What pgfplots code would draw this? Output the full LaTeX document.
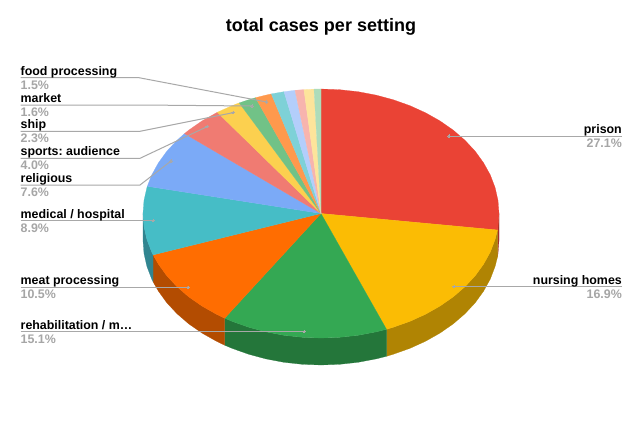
\documentclass[border=0pt]{standalone}
\usepackage{fontspec}
\setmainfont{Liberation Sans}
\usepackage{pgfplots}
\pgfplotsset{compat=1.18}
\frenchspacing
\definecolor{cA}{HTML}{EA4335}\definecolor{sA}{HTML}{A32F25}
\definecolor{cB}{HTML}{FBBC04}\definecolor{sB}{HTML}{B08403}
\definecolor{cC}{HTML}{34A853}\definecolor{sC}{HTML}{24763A}
\definecolor{cD}{HTML}{FF6D01}\definecolor{sD}{HTML}{B34C01}
\definecolor{cE}{HTML}{46BDC6}\definecolor{sE}{HTML}{318590}
\definecolor{cF}{HTML}{7BAAF7}
\definecolor{cG}{HTML}{F07B72}
\definecolor{cH}{HTML}{FCD04F}
\definecolor{cI}{HTML}{71C287}
\definecolor{cJ}{HTML}{FF994D}
\definecolor{cK}{HTML}{7ED1D7}
\definecolor{cL}{HTML}{B3CEFB}
\definecolor{cM}{HTML}{F7B4AE}
\definecolor{cN}{HTML}{FDE49B}
\definecolor{cO}{HTML}{AEDCBA}
\definecolor{leader}{HTML}{A8A8A8}
\definecolor{pct}{HTML}{A6A6A6}
\newcommand{\lab}[5]{%
  \node[anchor=#1,inner sep=0pt,font=\fontsize{12.4}{14}\selectfont\bfseries\frenchspacing,text=black] at (axis cs:#2,#3) {#4};
  \node[anchor=#1,inner sep=0pt,font=\fontsize{12.4}{14}\selectfont\bfseries,text=pct] at (axis cs:#2,#3+14) {#5};}
\begin{document}
\begin{tikzpicture}
\path[fill=white] (0,0) rectangle (640pt,426pt);
\begin{axis}[scale only axis,width=640pt,height=426pt,xmin=0,xmax=640,ymin=0,ymax=426,
  y dir=reverse,hide axis,clip=false,
  every axis plot/.append style={line join=round}]
% side walls
\addplot[fill=sA,draw=sA,line width=0.2pt] coordinates {(499,213.5)(498,226.5)(497.5,230)(497.5,257)(498,253.5)(499,240.5)} --cycle;
\addplot[fill=sB,draw=sB,line width=0.2pt] coordinates {(497.5,230)(495.1,239.4)(490.3,252)(483.6,264.1)(475.2,275.75)(465,286.7)(453.3,296.8)(440.1,306)(425.6,314.2)(410,321.3)(393.4,327.2)(386.5,329.3)(386.5,356.3)(393.4,354.2)(410,348.3)(425.6,341.2)(440.1,333)(453.3,323.8)(465,313.7)(475.2,302.75)(483.6,291.1)(490.3,279)(495.1,266.4)(497.5,257)} --cycle;
\addplot[fill=sC,draw=sC,line width=0.2pt] coordinates {(386.5,329.3)(376,331.9)(358,335.3)(339.6,337.3)(321,338)(302.4,337.3)(284,335.3)(266,331.9)(248.6,327.2)(232,321.3)(224.7,318.2)(224.7,345.2)(232,348.3)(248.6,354.2)(266,358.9)(284,362.3)(302.4,364.3)(321,365)(339.6,364.3)(358,362.3)(376,358.9)(386.5,356.3)} --cycle;
\addplot[fill=sD,draw=sD,line width=0.2pt] coordinates {(224.7,318.2)(216.4,314.2)(201.9,306)(188.7,296.8)(177,286.7)(166.8,275.75)(158.4,264.1)(153.1,254.9)(153.1,281.9)(158.4,291.1)(166.8,302.75)(177,313.7)(188.7,323.8)(201.9,333)(216.4,341.2)(224.7,345.2)} --cycle;
\addplot[fill=sE,draw=sE,line width=0.2pt] coordinates {(153.1,254.9)(151.7,252)(146.9,239.4)(144,226.5)(143,213.5)(143,240.5)(144,253.5)(146.9,266.4)(151.7,279)(153.1,281.9)} --cycle;
% top slices
\addplot[fill=cA,draw=cA,line width=0.2pt] coordinates {(321,213.5)(321,89)(339.6,89.7)(358,91.7)(376,95.1)(393.4,99.8)(410,105.7)(425.6,112.8)(440.1,121)(453.3,130.2)(465,140.3)(475.2,151.25)(483.6,162.9)(490.3,175)(495.1,187.6)(498,200.5)(499,213.5)(498,226.5)(497.5,230)} --cycle;
\addplot[fill=cB,draw=cB,line width=0.2pt] coordinates {(321,213.5)(497.5,230)(495.1,239.4)(490.3,252)(483.6,264.1)(475.2,275.75)(465,286.7)(453.3,296.8)(440.1,306)(425.6,314.2)(410,321.3)(393.4,327.2)(386.5,329.3)} --cycle;
\addplot[fill=cC,draw=cC,line width=0.2pt] coordinates {(321,213.5)(386.5,329.3)(376,331.9)(358,335.3)(339.6,337.3)(321,338)(302.4,337.3)(284,335.3)(266,331.9)(248.6,327.2)(232,321.3)(224.7,318.2)} --cycle;
\addplot[fill=cD,draw=cD,line width=0.2pt] coordinates {(321,213.5)(224.7,318.2)(216.4,314.2)(201.9,306)(188.7,296.8)(177,286.7)(166.8,275.75)(158.4,264.1)(153.1,254.9)} --cycle;
\addplot[fill=cE,draw=cE,line width=0.2pt] coordinates {(321,213.5)(153.1,254.9)(151.7,252)(146.9,239.4)(144,226.5)(143,213.5)(144,200.5)(146.9,187.6)(147.3,186.3)} --cycle;
\addplot[fill=cF,draw=cF,line width=0.2pt] coordinates {(321,213.5)(147.3,186.3)(151.7,175)(158.4,162.9)(166.8,151.25)(177,140.3)(184.5,133.6)} --cycle;
\addplot[fill=cG,draw=cG,line width=0.2pt] coordinates {(321,213.5)(184.5,133.6)(188.7,130.2)(201.9,121)(216.4,112.8)(217.3,112.3)} --cycle;
\addplot[fill=cH,draw=cH,line width=0.2pt] coordinates {(321,213.5)(217.3,112.3)(232,105.7)(239.2,102.9)} --cycle;
\addplot[fill=cI,draw=cI,line width=0.2pt] coordinates {(321,213.5)(239.2,102.9)(248.6,99.8)(255.5,97.7)} --cycle;
\addplot[fill=cJ,draw=cJ,line width=0.2pt] coordinates {(321,213.5)(255.5,97.7)(266,95.1)(271.3,93.9)} --cycle;
\addplot[fill=cK,draw=cK,line width=0.2pt] coordinates {(321,213.5)(271.3,93.9)(284,91.7)} --cycle;
\addplot[fill=cL,draw=cL,line width=0.2pt] coordinates {(321,213.5)(284,91.7)(295,90.3)} --cycle;
\addplot[fill=cM,draw=cM,line width=0.2pt] coordinates {(321,213.5)(295,90.3)(303.9,89.6)} --cycle;
\addplot[fill=cN,draw=cN,line width=0.2pt] coordinates {(321,213.5)(303.9,89.6)(314,89.1)} --cycle;
\addplot[fill=cO,draw=cO,line width=0.2pt] coordinates {(321,213.5)(314,89.1)(321,89)} --cycle;
% leader lines
\pgfplotsset{leaderstyle/.style={leader,line width=1pt,mark=*,mark size=1.2pt,mark options={fill=leader,draw=leader,line width=0pt}}}
\addplot[leaderstyle,mark indices={2}] coordinates {(622,136)(449,136)};
\addplot[leaderstyle,mark indices={2}] coordinates {(622,286.7)(454,286.7)};
\addplot[leaderstyle,mark indices={2}] coordinates {(20.5,331.7)(304,331.7)};
\addplot[leaderstyle,mark indices={2}] coordinates {(20.5,287.3)(188,287.3)};
\addplot[leaderstyle,mark indices={2}] coordinates {(20.5,220.7)(153,220.7)};
\addplot[leaderstyle,mark indices={3}] coordinates {(20.5,185)(140,185)(171,161)};
\addplot[leaderstyle,mark indices={3}] coordinates {(20.5,158.3)(140,158.3)(207,126.7)};
\addplot[leaderstyle,mark indices={3}] coordinates {(20.5,131.3)(140,131.3)(233,112.7)};
\addplot[leaderstyle,mark indices={3}] coordinates {(20.5,105)(140,105)(252,106)};
\addplot[leaderstyle,mark indices={3}] coordinates {(20.5,77.7)(139,77.7)(266.7,102)};
% text
\node[anchor=base,inner sep=0pt,font=\fontsize{18}{20}\selectfont\bfseries] at (axis cs:321,31.5) {total cases per setting};
\lab{base east}{622}{133.3}{prison}{27.1\%}
\lab{base east}{622}{284}{nursing homes}{16.9\%}
\lab{base west}{20.5}{329}{rehabilitation / m…}{15.1\%}
\lab{base west}{20.5}{284.5}{meat processing}{10.5\%}
\lab{base west}{20.5}{218}{medical / hospital}{8.9\%}
\lab{base west}{20.5}{182.5}{religious}{7.6\%}
\lab{base west}{20.5}{155.5}{sports: audience}{4.0\%}
\lab{base west}{20.5}{128.5}{ship}{2.3\%}
\lab{base west}{20.5}{102}{market}{1.6\%}
\lab{base west}{20.5}{75}{food processing}{1.5\%}
\end{axis}
\end{tikzpicture}
\end{document}
